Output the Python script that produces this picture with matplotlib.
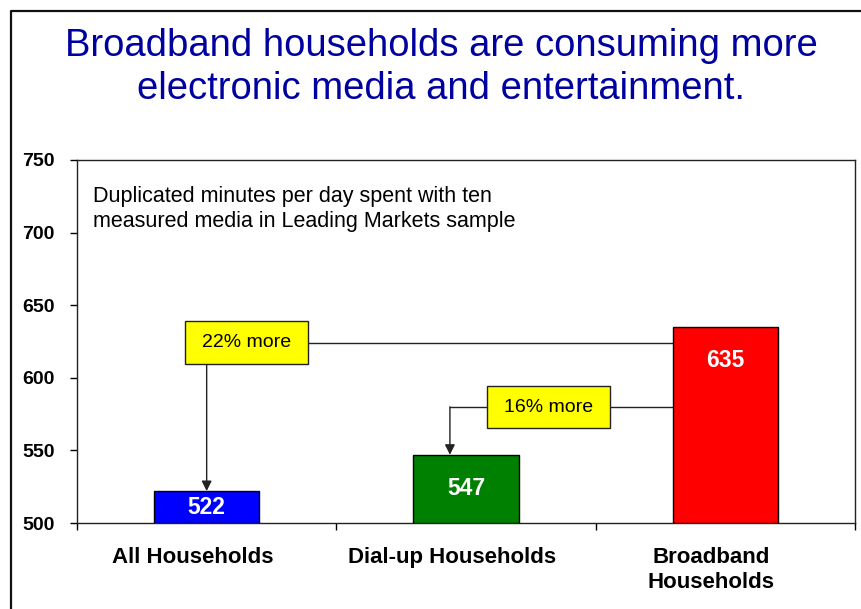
import matplotlib.pyplot as plt
from matplotlib.patches import Rectangle
from matplotlib.lines import Line2D
from matplotlib.transforms import ScaledTranslation

plt.rcParams['font.family'] = ['Liberation Sans', 'DejaVu Sans']

categories = ['All Households', 'Dial-up Households', 'Broadband\nHouseholds']
minutes = [522, 547, 635]
bar_colors = ['#0000FF', '#008000', '#FF0000']
yticks = [500, 550, 600, 650, 700, 750]
notes = ['22% more', '16% more']

title1 = 'Broadband households are consuming more'
title2 = 'electronic media and entertainment.'
subtitle = 'Duplicated minutes per day spent with ten\nmeasured media in Leading Markets sample'

fig = plt.figure(figsize=(8.62, 6.09), dpi=100)
ax = fig.add_axes([77/862, 86/609, 778/862, 363/609])

x = list(range(len(categories)))
w = 0.405
ax.bar(x, [m - 500 for m in minutes], bottom=500, width=w, color=bar_colors,
       edgecolor='black', linewidth=1, zorder=3)

# value labels inside the bars (white, bold)
for i, m in enumerate(minutes):
    ypos = max((500 + m) / 2, m - 23)
    ax.text(i, ypos, str(m), ha='center', va='center', color='white',
            fontsize=16.5, fontweight='bold', zorder=4)

ax.set_xlim(-0.5, 2.5)
ax.set_ylim(500, 750)
ax.set_yticks(yticks)
ax.set_yticklabels([str(t) for t in yticks], fontsize=14, fontweight='bold')
ax.tick_params(axis='y', direction='out', length=5, width=1, pad=11)

# ticks at category borders, labels at centres
ax.set_xticks([-0.5, 0.5, 1.5, 2.5])
ax.set_xticklabels([])
ax.tick_params(axis='x', which='major', direction='out', length=5, width=1)
ax.set_xticks(x, minor=True)
ax.set_xticklabels(categories, minor=True, fontsize=16, fontweight='bold',
                   linespacing=1.3)
ax.tick_params(axis='x', which='minor', length=0, pad=17)
shift = ScaledTranslation(-14/100, 0, fig.dpi_scale_trans)
for lab in ax.get_xticklabels(minor=True):
    lab.set_transform(lab.get_transform() + shift)
for sp in ax.spines.values():
    sp.set_linewidth(1)
    sp.set_color('#222222')

ax.text(-0.44, 732, subtitle, ha='left', va='top', fontsize=15.5, linespacing=1.25)

# callout lines and boxes
red_left = 2 - w / 2
lc = '#222222'
ax.plot([0.39, red_left], [624, 624], color=lc, lw=1, zorder=2)
ax.annotate('', xy=(0, minutes[0]), xytext=(0, 609.5),
            arrowprops=dict(arrowstyle='-|>,head_length=0.6,head_width=0.3',
                            color=lc, lw=1, shrinkA=0, shrinkB=0), zorder=2)
ax.plot([1.556, red_left], [580, 580], color=lc, lw=1, zorder=2)
ax.plot([1.081, 0.938], [580, 580], color=lc, lw=1, zorder=2)
ax.annotate('', xy=(0.938, minutes[1]), xytext=(0.938, 580),
            arrowprops=dict(arrowstyle='-|>,head_length=0.6,head_width=0.3',
                            color=lc, lw=1, shrinkA=0, shrinkB=0), zorder=2)

boxes = [(-0.085, 609.5, 0.475, 29.6), (1.081, 565.4, 0.475, 28.9)]
for (bx, by, bw, bh), note in zip(boxes, notes):
    ax.add_patch(Rectangle((bx, by), bw, bh, facecolor='#FFFF00',
                           edgecolor='#222222', lw=1, zorder=5))
    ax.text(bx + bw / 2, by + bh / 2, note, ha='center', va='center',
            fontsize=14, zorder=6)

# title
fig.text(441/862, 1 - 56/609, title1, ha='center', va='baseline',
         fontsize=27.5, color='#0000A0')
fig.text(441/862, 1 - 99/609, title2, ha='center', va='baseline',
         fontsize=27.5, color='#0000A0')

# slide frame
fx = 11/862
fy = 1 - 11/609
fig.add_artist(Line2D([fx, fx, 1.01], [-0.01, fy, fy], color='#111111',
                      lw=1.6, transform=fig.transFigure))

fig.savefig('out.png', dpi=100)
